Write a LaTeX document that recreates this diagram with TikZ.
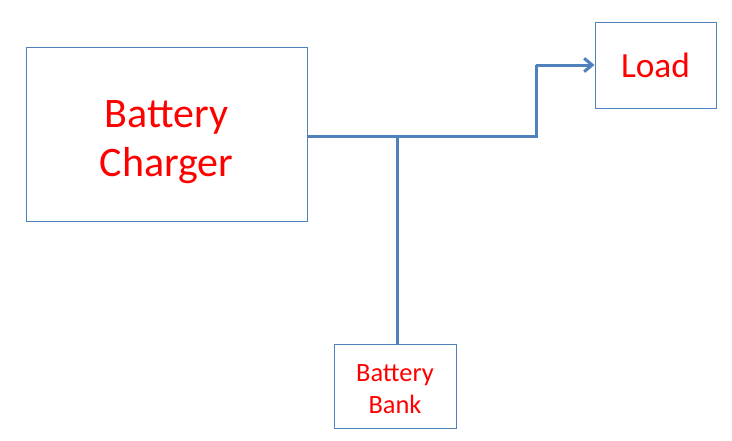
\documentclass[tikz,border=0pt]{standalone}
\usepackage{fontspec}
\setmainfont{Carlito}
\usepackage{tikz}
\usetikzlibrary{arrows.meta}
\definecolor{boxblue}{HTML}{4F81BD}
\definecolor{txtred}{HTML}{FF0000}

\tikzset{
    block/.style={draw=boxblue, line width=0.75pt, fill=white, text=txtred, align=center, inner sep=0pt},
    wire/.style={draw=boxblue, line width=2.25pt}
}

\begin{document}
\begin{tikzpicture}[x=0.75pt, y=-0.75pt]
    \useasboundingbox (0,0) rectangle (732,440);

    \node[block, minimum width=210.75pt, minimum height=130.5pt, font=\fontsize{31.5}{36.5}\selectfont] (charger) at (166.5,134) {\rule{0pt}{32pt}Battery\\Charger};
    \node[block, minimum width=90.75pt, minimum height=64.5pt, font=\fontsize{26.5}{30}\selectfont] (load) at (655.5,65) {Load};
    \node[block, minimum width=91.5pt, minimum height=63pt, font=\fontsize{19.8}{23.5}\selectfont] (bank) at (395,386) {\rule{0pt}{17.5pt}Battery\\Bank};

    \coordinate (tee) at (397,136);
    \coordinate (bend) at (536,136);

    \draw[wire] (charger.east |- tee) -- (tee) -- (bend) -- (bend |- load.west)
        edge[wire, -{Straight Barb[length=6pt, width=10pt]}] (load.west);
    \draw[wire] (tee) -- (tee |- bank.north);
\end{tikzpicture}
\end{document}
